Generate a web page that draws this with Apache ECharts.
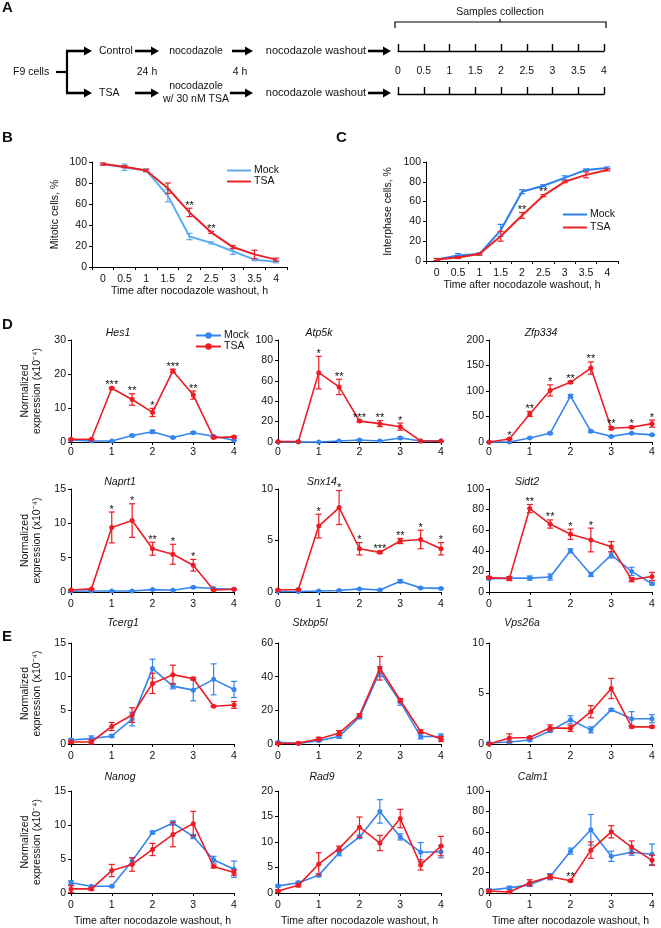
<!DOCTYPE html>
<html><head><meta charset="utf-8">
<script src="https://cdn.jsdelivr.net/npm/echarts@6/dist/echarts.min.js"></script>
<style>html,body{margin:0;padding:0;background:#fff}#c{width:661px;height:928px}</style>
</head><body><div id="c"></div>
<script>
const FONT = '"Liberation Sans",Arial,Helvetica,sans-serif';

// ---------- DATA ----------
const time = [0, 0.5, 1, 1.5, 2, 2.5, 3, 3.5, 4];
const timeLabels = ['0', '0.5', '1', '1.5', '2', '2.5', '3', '3.5', '4'];

// B: mitotic cells, %
const mitoticMock = [98, 95, 92, 68, 29, 23, 15, 7, 5];
const mitoticMockErr = [1, 3, 1.5, 6, 3, 1, 3, 1, 1];
const mitoticTSA = [98, 95.5, 92, 75, 52, 33, 19, 12, 7];
const mitoticTSAErr = [1, 1, 1, 5, 4, 1, 1.5, 4, 1.5];
const mitoticStars = ['', '', '', '', '**', '**', '', '', ''];

// C: interphase cells, %
const interMock = [1.5, 5.5, 7, 31, 70, 76, 84, 92, 94];
const interMockErr = [1, 2, 1, 6, 2, 1, 2, 1, 1];
const interTSA = [1.5, 3.5, 7, 25, 46, 66, 80, 87, 92];
const interTSAErr = [1, 1, 1, 5, 3, 1, 1, 3, 1];
const interStars = ['', '', '', '', '**', '**', '', '', ''];

// D
const hes1Mock = [0.6, 0.3, 0.3, 1.9, 3.0, 1.3, 2.7, 1.7, 0.5];
const hes1MockErr = [0.1, 0.1, 0.1, 0.3, 0.5, 0.2, 0.3, 0.2, 0.1];
const hes1TSA = [0.8, 0.8, 15.8, 12.5, 8.7, 20.9, 13.8, 1.3, 1.5];
const hes1TSAErr = [0.1, 0.1, 0.3, 1.7, 1.2, 0.5, 1.2, 0.2, 0.2];
const hes1Stars = ['', '', '***', '**', '*', '***', '**', '', ''];

const atp5kMock = [0, 0, 0, 1, 2, 1, 4, 1, 1];
const atp5kMockErr = [0, 0, 0, 0.5, 0.5, 0.5, 1, 0.5, 0.5];
const atp5kTSA = [0.5, 0.5, 68, 54, 20.5, 18, 15, 1, 1];
const atp5kTSAErr = [0, 0, 16, 7.5, 1, 3, 3.5, 0, 0];
const atp5kStars = ['', '', '*', '**', '***', '**', '*', '', ''];

const zfp334Mock = [0, 0, 8, 17, 90, 21, 11, 17, 14];
const zfp334MockErr = [0, 0, 1, 2, 3, 2, 1, 1, 1];
const zfp334TSA = [0, 6, 55, 101, 117, 145, 27, 29, 36];
const zfp334TSAErr = [0, 1, 5, 11, 2, 12, 3, 2, 7];
const zfp334Stars = ['', '*', '**', '*', '**', '**', '**', '*', '*'];

const naprt1Mock = [0.1, 0.15, 0.15, 0.15, 0.35, 0.25, 0.7, 0.5, 0.4];
const naprt1MockErr = [0.05, 0.05, 0.05, 0.05, 0.05, 0.05, 0.1, 0.05, 0.05];
const naprt1TSA = [0.3, 0.45, 9.4, 10.4, 6.3, 5.5, 3.9, 0.3, 0.4];
const naprt1TSAErr = [0.05, 0.05, 2.25, 2.45, 0.95, 1.45, 0.85, 0.05, 0.05];
const naprt1Stars = ['', '', '*', '*', '**', '*', '*', '', ''];

const snx14Mock = [0.05, 0.05, 0.1, 0.15, 0.3, 0.2, 1.05, 0.4, 0.35];
const snx14MockErr = [0, 0, 0.02, 0.05, 0.05, 0.05, 0.15, 0.05, 0.05];
const snx14TSA = [0.2, 0.25, 6.4, 8.2, 4.2, 3.85, 4.95, 5.1, 4.2];
const snx14TSAErr = [0.05, 0.05, 1.15, 1.65, 0.6, 0.1, 0.25, 0.9, 0.6];
const snx14Stars = ['', '', '*', '*', '*', '***', '**', '*', '*'];

const sidt2Mock = [13, 13.5, 13.5, 14.5, 40, 17, 36, 20, 8];
const sidt2MockErr = [1, 1, 2, 3, 2, 2, 3, 4, 1];
const sidt2TSA = [14, 13, 81, 66, 56, 50.5, 44, 12, 15];
const sidt2TSAErr = [1, 2, 4, 4, 5, 11.5, 5, 2, 4];
const sidt2Stars = ['', '', '**', '**', '*', '*', '', '', ''];

// E
const tcerg1Mock = [0.6, 0.8, 1.2, 3.7, 11.2, 8.6, 8.0, 9.6, 8.1];
const tcerg1MockErr = [0.2, 0.4, 0.2, 1.0, 1.4, 0.4, 1.6, 2.3, 1.2];
const tcerg1TSA = [0.3, 0.3, 2.6, 4.3, 9.0, 10.3, 9.7, 5.6, 5.8];
const tcerg1TSAErr = [0.2, 0.3, 0.6, 1.1, 1.5, 1.4, 0.2, 0.1, 0.5];

const stxbp5lMock = [1, 0.3, 2, 4.5, 16, 43, 25, 4.5, 4.5];
const stxbp5lMockErr = [0.3, 0.3, 0.5, 1, 1, 3, 2, 1.5, 1.5];
const stxbp5lTSA = [0.3, 0.5, 3, 6.5, 17, 45, 26, 7.5, 3];
const stxbp5lTSAErr = [0.3, 0.5, 1, 1.5, 1, 7, 1, 1, 1.5];

const vps26aMock = [0.1, 0.2, 0.4, 1.3, 2.4, 1.4, 3.4, 2.5, 2.5];
const vps26aMockErr = [0.05, 0.1, 0.1, 0.1, 0.4, 0.3, 0.1, 0.7, 0.4];
const vps26aTSA = [0, 0.6, 0.65, 1.6, 1.55, 3.2, 5.5, 1.7, 1.7];
const vps26aTSAErr = [0, 0.4, 0.1, 0.3, 0.3, 0.6, 1.0, 0.1, 0.1];

const nanogMock = [1.5, 1.0, 1.0, 4.7, 8.9, 10.3, 8.3, 4.9, 3.5];
const nanogMockErr = [0.3, 0.1, 0.1, 0.5, 0.2, 0.3, 0.3, 0.5, 1.2];
const nanogTSA = [0.6, 0.6, 3.3, 4.2, 6.4, 8.6, 10.2, 3.9, 3.0];
const nanogTSAErr = [0.5, 0.2, 0.9, 1.0, 0.9, 1.8, 1.8, 0.2, 0.4];

const rad9Mock = [1.4, 2.0, 3.5, 7.9, 11.0, 16.0, 11.0, 8.0, 8.1];
const rad9MockErr = [0.2, 0.3, 0.3, 0.6, 0.3, 2.3, 0.6, 1.9, 1.2];
const rad9TSA = [0.4, 1.5, 5.7, 8.7, 12.9, 9.8, 14.6, 5.5, 9.2];
const rad9TSAErr = [0.2, 0.3, 2.2, 0.5, 2.0, 1.5, 1.8, 1.0, 1.9];

const calm1Mock = [3, 5, 8, 16, 41, 62, 36, 40, 38];
const calm1MockErr = [1, 1.5, 1.5, 3, 3, 15, 5, 3, 10];
const calm1TSA = [2, 1, 10, 16, 12, 42, 60, 45, 32];
const calm1TSAErr = [1, 0.5, 3, 2, 1, 8, 6, 6, 5];
const calm1Stars = ['', '', '', '', '**', '', '', '', ''];

const noStars = ['', '', '', '', '', '', '', '', ''];

// ---------- CHART BUILD ----------
const grids = [], xAxes = [], yAxes = [], series = [], graphics = [], legends = [];
const BLACK = '#000';
const FS = 10.5;

function errRender(color) {
  return function (params, api) {
    const x = api.value(0), lo = api.value(1), hi = api.value(2);
    const a = api.coord([x, hi]), b = api.coord([x, lo]);
    const w = 3, st = { stroke: color, lineWidth: 1.2 };
    return { type: 'group', children: [
      { type: 'line', shape: { x1: a[0], y1: a[1], x2: b[0], y2: b[1] }, style: st },
      { type: 'line', shape: { x1: a[0] - w, y1: a[1], x2: a[0] + w, y2: a[1] }, style: st },
      { type: 'line', shape: { x1: b[0] - w, y1: b[1], x2: b[0] + w, y2: b[1] }, style: st }
    ]};
  };
}
function starRender(texts) {
  return function (params, api) {
    const p = api.coord([api.value(0), api.value(1)]);
    return { type: 'text', x: p[0], y: p[1] + 3, style: {
      text: texts[api.value(2)], align: 'center', verticalAlign: 'bottom',
      textAlign: 'center', textVerticalAlign: 'bottom',
      fontSize: 11, fontFamily: FONT, fill: '#111' } };
  };
}
function addSeries(gi, xs, name, vals, errs, color, opts) {
  series.push({
    type: 'line', name: name, xAxisIndex: gi, yAxisIndex: gi,
    data: xs.map((x, i) => [x, vals[i]]),
    symbol: opts.symbol ? 'circle' : 'none', symbolSize: 5, showSymbol: !!opts.symbol,
    lineStyle: { color: color, width: opts.lw || 1.6 }, itemStyle: { color: color },
    z: opts.z || 2, clip: false, animation: false
  });
  series.push({
    type: 'custom', xAxisIndex: gi, yAxisIndex: gi, renderItem: errRender(color),
    data: xs.map((x, i) => [x, vals[i] - errs[i], vals[i] + errs[i]]).filter((d, i) => errs[i] > 0),
    encode: { x: 0, y: [1, 2] }, z: (opts.z || 2) + 1, clip: false, animation: false, silent: true
  });
}
function addStars(gi, xs, vals, errs, stars) {
  const d = [];
  xs.forEach((x, i) => { if (stars[i]) d.push([x, vals[i] + errs[i], i]); });
  if (!d.length) return;
  series.push({ type: 'custom', xAxisIndex: gi, yAxisIndex: gi, renderItem: starRender(stars),
    data: d, encode: { x: 0, y: 1 }, z: 10, clip: false, animation: false, silent: true });
}
const axisLineBlack = { show: true, lineStyle: { color: BLACK, width: 1 } };
const tickBlack = { show: true, length: 3, lineStyle: { color: BLACK, width: 1 } };
const labelStyle = { fontSize: FS, color: '#111', fontFamily: FONT };

// ---------- Panel A (schematic) ----------
function txt(x, y, s, align, extra) {
  graphics.push({ type: 'text', x: x, y: y, style: Object.assign({
    text: s, fontSize: 10.5, fontFamily: FONT, fill: '#111',
    align: align || 'center', verticalAlign: 'middle', textAlign: align || 'center', textVerticalAlign: 'middle' }, extra || {}) });
}
function arrow(x1, x2, y) {
  graphics.push({ type: 'line', shape: { x1: x1, y1: y, x2: x2 - 6, y2: y }, style: { stroke: BLACK, lineWidth: 2.6 } });
  graphics.push({ type: 'polygon', shape: { points: [[x2 - 8, y - 4.5], [x2, y], [x2 - 8, y + 4.5]] }, style: { fill: BLACK } });
}
const BOLD = { fontSize: 15, fontWeight: 'bold', fontFamily: FONT };
txt(2, 8, 'A', 'left', BOLD);
txt(500, 12, 'Samples collection', 'center', { fontSize: 10.5 });
graphics.push({ type: 'polyline', shape: { points: [[395, 28], [395, 22], [606, 22], [606, 28]] }, style: { stroke: BLACK, lineWidth: 1.2, fill: null } });
graphics.push({ type: 'line', shape: { x1: 500, y1: 22, x2: 500, y2: 19 }, style: { stroke: BLACK, lineWidth: 1.2 } });
txt(13, 72, 'F9 cells', 'left');
graphics.push({ type: 'line', shape: { x1: 56, y1: 72, x2: 67, y2: 72 }, style: { stroke: BLACK, lineWidth: 2.2 } });
graphics.push({ type: 'line', shape: { x1: 67, y1: 51, x2: 67, y2: 93 }, style: { stroke: BLACK, lineWidth: 2.2 } });
arrow(66, 92, 51); arrow(66, 92, 93);
txt(99, 51, 'Control', 'left'); txt(99, 93, 'TSA', 'left');
arrow(135, 159, 51); arrow(135, 159, 93);
txt(196, 51, 'nocodazole');
txt(196, 86, 'nocodazole'); txt(196, 99, 'w/ 30 nM TSA');
txt(147, 72, '24 h'); txt(240, 72, '4 h');
arrow(232, 253, 51); arrow(230, 253, 93);
txt(316, 51, 'nocodazole washout', 'center', { fontSize: 11 }); txt(316, 93, 'nocodazole washout', 'center', { fontSize: 11 });
arrow(368, 391, 51); arrow(368, 391, 93);

// timeline axes (two)
[[44, true], [87, false]].forEach(([top, lab]) => {
  const gi = grids.length;
  grids.push({ left: 398, top: top, width: 206, height: 7 });
  xAxes.push({ gridIndex: gi, type: 'value', min: 0, max: 4, interval: 0.5,
    axisLine: { show: true, lineStyle: { color: BLACK, width: 1.4 } },
    axisTick: { show: true, inside: true, length: 7, lineStyle: { color: BLACK, width: 1.4 } },
    axisLabel: { show: lab, margin: 15, fontSize: 10.5, color: '#111', fontFamily: FONT,
      formatter: v => timeLabels[time.indexOf(v)] },
    splitLine: { show: false } });
  yAxes.push({ gridIndex: gi, type: 'value', show: false, min: 0, max: 1 });
});

// ---------- Panels B & C ----------
function catPanel(g, label, yName, mock, mockErr, tsa, tsaErr, stars, mockColor, tsaColor, suffix, legendPos, legendGap, nameGapY, xNameGap) {
  const gi = grids.length;
  grids.push({ left: g.left, top: g.top, width: g.width, height: g.height });
  xAxes.push({ gridIndex: gi, type: 'category', data: timeLabels, boundaryGap: true,
    axisLine: axisLineBlack, axisTick: { show: true, length: 3, lineStyle: { color: BLACK } },
    axisLabel: Object.assign({ interval: 0, margin: 7 }, labelStyle),
    name: 'Time after nocodazole washout, h', nameLocation: 'middle', nameGap: xNameGap,
    nameTextStyle: { fontSize: FS, color: '#111', fontFamily: FONT } });
  yAxes.push({ gridIndex: gi, type: 'value', min: 0, max: 100, interval: 20,
    axisLine: axisLineBlack, axisTick: tickBlack, splitLine: { show: false },
    axisLabel: Object.assign({ margin: 5 }, labelStyle),
    name: yName, nameLocation: 'middle', nameGap: nameGapY,
    nameTextStyle: { fontSize: FS, color: '#111', fontFamily: FONT } });
  const idx = time.map((t, i) => i);
  addSeries(gi, idx, 'Mock' + suffix, mock, mockErr, mockColor, { lw: 2, z: 2 });
  addSeries(gi, idx, 'TSA' + suffix, tsa, tsaErr, tsaColor, { lw: 2, z: 4 });
  addStars(gi, idx, tsa, tsaErr, stars);
  legends.push({ left: legendPos[0], top: legendPos[1], orient: 'vertical', itemWidth: 24, itemHeight: 2, itemGap: legendGap,
    data: [{ name: 'Mock' + suffix, icon: 'rect' }, { name: 'TSA' + suffix, icon: 'rect' }], formatter: n => n.trim(),
    textStyle: { fontSize: FS, color: '#111', fontFamily: FONT, padding: [0, 0, 0, -2] } });
  txt(label[1], label[2], label[0], 'left', BOLD);
}
catPanel({ left: 92, top: 162, width: 195, height: 105 }, ['B', 2, 138], 'Mitotic cells, %',
  mitoticMock, mitoticMockErr, mitoticTSA, mitoticTSAErr, mitoticStars, '#5aacf3', '#ea2227', '', [222, 160], 0, 31, 15);
catPanel({ left: 426, top: 162, width: 192, height: 99 }, ['C', 336, 138], 'Interphase cells, %',
  interMock, interMockErr, interTSA, interTSAErr, interStars, '#2a7ef0', '#ee2222', ' ', [558, 204], 2, 32, 16);

// ---------- Panels D & E ----------
const cols = [71, 278, 489];
const rows = [
  { top: 340, h: 102, titleY: 333 },
  { top: 489, h: 103, titleY: 482 },
  { top: 643, h: 101, titleY: 623 },
  { top: 791, h: 103, titleY: 777 }
];
const titleX = [[118, 319, 541], [120, 322, 527], [123, 310, 522], [120, 322, 533]];
const genes = [
  ['Hes1', 30, 10, hes1Mock, hes1MockErr, hes1TSA, hes1TSAErr, hes1Stars],
  ['Atp5k', 100, 20, atp5kMock, atp5kMockErr, atp5kTSA, atp5kTSAErr, atp5kStars],
  ['Zfp334', 200, 50, zfp334Mock, zfp334MockErr, zfp334TSA, zfp334TSAErr, zfp334Stars],
  ['Naprt1', 15, 5, naprt1Mock, naprt1MockErr, naprt1TSA, naprt1TSAErr, naprt1Stars],
  ['Snx14', 10, 5, snx14Mock, snx14MockErr, snx14TSA, snx14TSAErr, snx14Stars],
  ['Sidt2', 100, 20, sidt2Mock, sidt2MockErr, sidt2TSA, sidt2TSAErr, sidt2Stars],
  ['Tcerg1', 15, 5, tcerg1Mock, tcerg1MockErr, tcerg1TSA, tcerg1TSAErr, noStars],
  ['Stxbp5l', 60, 20, stxbp5lMock, stxbp5lMockErr, stxbp5lTSA, stxbp5lTSAErr, noStars],
  ['Vps26a', 10, 5, vps26aMock, vps26aMockErr, vps26aTSA, vps26aTSAErr, noStars],
  ['Nanog', 15, 5, nanogMock, nanogMockErr, nanogTSA, nanogTSAErr, noStars],
  ['Rad9', 20, 5, rad9Mock, rad9MockErr, rad9TSA, rad9TSAErr, noStars],
  ['Calm1', 100, 20, calm1Mock, calm1MockErr, calm1TSA, calm1TSAErr, calm1Stars]
];
const MOCK_C = '#3585f0', TSA_C = '#ee1c24';
genes.forEach((g, k) => {
  const r = Math.floor(k / 3), c = k % 3, row = rows[r];
  const gi = grids.length;
  grids.push({ left: cols[c], top: row.top, width: 163, height: row.h });
  const lastRow = r === 3;
  xAxes.push({ gridIndex: gi, type: 'value', min: 0, max: 4, interval: 1,
    axisLine: axisLineBlack, axisTick: tickBlack, splitLine: { show: false },
    axisLabel: Object.assign({ margin: r === 0 ? 5 : 7 }, labelStyle),
    name: lastRow ? 'Time after nocodazole washout, h' : '', nameLocation: 'middle', nameGap: 23,
    nameTextStyle: { fontSize: FS, color: '#111', fontFamily: FONT } });
  yAxes.push({ gridIndex: gi, type: 'value', min: 0, max: g[1], interval: g[2],
    axisLine: axisLineBlack, axisTick: tickBlack, splitLine: { show: false },
    axisLabel: Object.assign({ margin: 5 }, labelStyle),
    name: c === 0 ? 'Normalized\nexpression (x10\u207B\u2074)' : '', nameLocation: 'middle', nameGap: 28,
    nameTextStyle: { fontSize: FS, lineHeight: 12, color: '#111', fontFamily: FONT } });
  addSeries(gi, time, 'Mock  ', g[3], g[4], MOCK_C, { symbol: true, lw: 1.6, z: 2 });
  addSeries(gi, time, 'TSA  ', g[5], g[6], TSA_C, { symbol: true, lw: 1.6, z: 4 });
  addStars(gi, time, g[5], g[6], g[7]);
  txt(titleX[r][c], row.titleY, g[0], 'center', { fontStyle: 'italic', fontSize: FS });
});
legends.push({ left: 190, top: 325, orient: 'vertical', itemWidth: 25, itemHeight: 8, itemGap: 0,
  data: ['Mock  ', 'TSA  '], formatter: n => n.trim(),
  textStyle: { fontSize: 10.5, color: '#111', fontFamily: FONT, padding: [0, 0, 0, -2] } });
txt(2, 325, 'D', 'left', BOLD);
txt(2, 637, 'E', 'left', BOLD);

const chart = echarts.init(document.getElementById('c'), null, { renderer: 'canvas' });
chart.setOption({
  animation: false, backgroundColor: '#fff',
  grid: grids, xAxis: xAxes, yAxis: yAxes, series: series, legend: legends,
  graphic: { elements: graphics }
});
</script></body></html>
